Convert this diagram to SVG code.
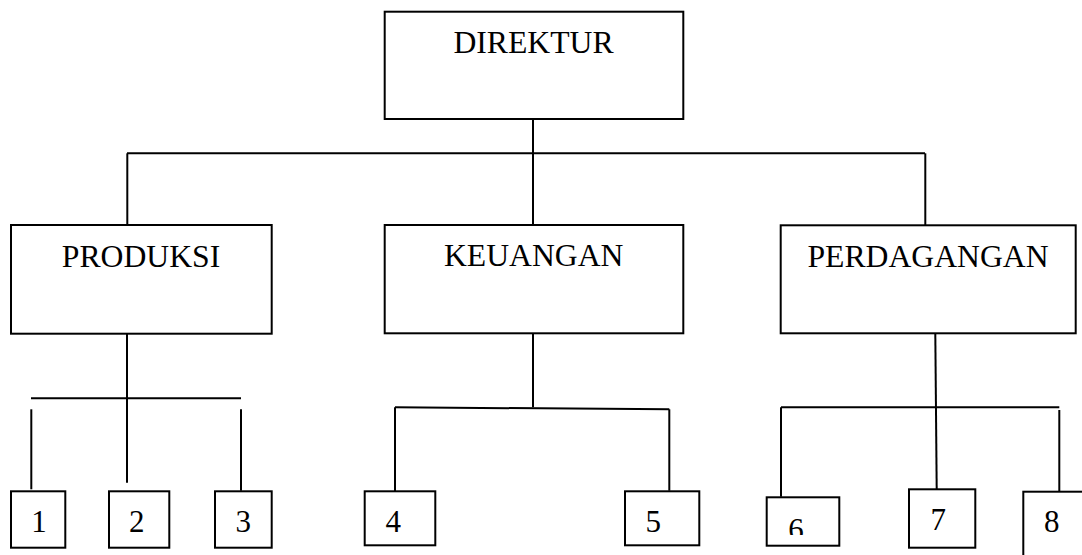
<svg xmlns="http://www.w3.org/2000/svg" width="1082" height="555" viewBox="0 0 1082 555">
  <style>
    .box { fill: #ffffff; stroke: #000000; stroke-width: 2; }
    .line { fill: none; stroke: #000000; stroke-width: 2; }
    .label { font-family: "Liberation Serif", "Times New Roman", serif; font-size: 31.7px; fill: #000000; text-anchor: middle; }
    .num { font-family: "Liberation Serif", "Times New Roman", serif; font-size: 31px; fill: #000000; text-anchor: middle; }
  </style>
  <defs>
    <clipPath id="clip-six">
      <rect x="760" y="495" width="90" height="40"/>
    </clipPath>
  </defs>
  <rect width="1082" height="555" fill="#ffffff"/>

  <!-- connectors -->
  <g id="connectors">
    <!-- director to departments -->
    <line class="line" x1="533" y1="119" x2="533" y2="225"/>
    <line class="line" x1="127" y1="153.3" x2="925" y2="153.3"/>
    <line class="line" x1="127.3" y1="153.3" x2="127.3" y2="235"/>
    <line class="line" x1="925.3" y1="153.3" x2="925.3" y2="225.5"/>

    <!-- produksi branch -->
    <line class="line" x1="127" y1="333.5" x2="127" y2="482.7"/>
    <line class="line" x1="31" y1="398.3" x2="241" y2="398.3"/>
    <line class="line" x1="31.3" y1="409.3" x2="31.3" y2="489.3"/>
    <line class="line" x1="241" y1="409.3" x2="241" y2="490.7"/>

    <!-- keuangan branch -->
    <line class="line" x1="533" y1="333.5" x2="533" y2="407.3"/>
    <line class="line" x1="395" y1="407.3" x2="669.3" y2="409.3"/>
    <line class="line" x1="395" y1="407.3" x2="395" y2="497.3"/>
    <line class="line" x1="669.3" y1="409.3" x2="669.3" y2="490.7"/>

    <!-- perdagangan branch -->
    <line class="line" x1="935.3" y1="333.5" x2="936.7" y2="489.3"/>
    <line class="line" x1="781" y1="407.3" x2="1059.3" y2="407.3"/>
    <line class="line" x1="781" y1="407.3" x2="781" y2="496.7"/>
    <line class="line" x1="1059.3" y1="410" x2="1059.3" y2="496.7"/>
  </g>

  <g id="node-direktur">
    <rect class="box" x="384.7" y="11.7" width="298.6" height="107.3"/>
    <text class="label" x="533.5" y="53">DIREKTUR</text>
  </g>

  <g id="node-produksi">
    <rect class="box" x="11" y="225" width="260.7" height="108.7"/>
    <text class="label" x="141" y="266.5">PRODUKSI</text>
  </g>

  <g id="node-keuangan">
    <rect class="box" x="384.7" y="225" width="298.6" height="108.3"/>
    <text class="label" x="533.7" y="266.3">KEUANGAN</text>
  </g>

  <g id="node-perdagangan">
    <rect class="box" x="780.7" y="225.3" width="295" height="108"/>
    <text class="label" x="928" y="266.5">PERDAGANGAN</text>
  </g>

  <g id="node-1">
    <rect class="box" x="11" y="491.3" width="54.3" height="56.4"/>
    <text class="num" x="39" y="531.7">1</text>
  </g>
  <g id="node-2">
    <rect class="box" x="109" y="491.3" width="60.3" height="56.4"/>
    <text class="num" x="136.7" y="531.7">2</text>
  </g>
  <g id="node-3">
    <rect class="box" x="215" y="491.3" width="56.7" height="56.4"/>
    <text class="num" x="243.3" y="531.7">3</text>
  </g>
  <g id="node-4">
    <rect class="box" x="364.7" y="491.3" width="70.6" height="54"/>
    <text class="num" x="393.3" y="531.7">4</text>
  </g>
  <g id="node-5">
    <rect class="box" x="625" y="491.3" width="74.3" height="54"/>
    <text class="num" x="653.3" y="531.7">5</text>
  </g>
  <g id="node-6">
    <rect class="box" x="766.7" y="497.3" width="72.6" height="48.4"/>
    <text class="num" x="796" y="539.5" clip-path="url(#clip-six)">6</text>
  </g>
  <g id="node-7">
    <rect class="box" x="909" y="489.3" width="66.3" height="58.4"/>
    <text class="num" x="938.3" y="530">7</text>
  </g>
  <g id="node-8">
    <rect class="box" x="1023.3" y="491.7" width="100" height="100"/>
    <text class="num" x="1051.7" y="531.7">8</text>
  </g>
</svg>
